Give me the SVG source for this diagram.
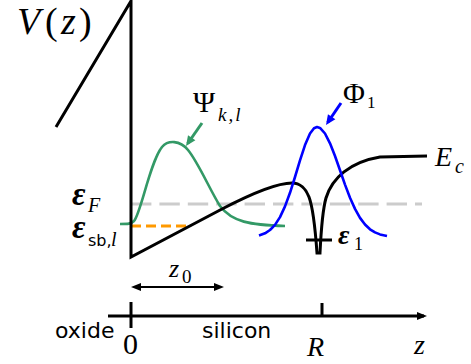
<svg xmlns="http://www.w3.org/2000/svg" width="471" height="364" viewBox="0 0 471 364">
<style>
.blk{fill:none;stroke:#000;stroke-width:3}
.serif{font-family:"Liberation Serif","Times New Roman",serif;fill:#000}
.it{font-style:italic}
.eps{font-style:italic;font-weight:bold}
.sans{font-family:"DejaVu Sans","Liberation Sans",sans-serif;fill:#000}
</style>
<defs>
<marker id="ahK" markerUnits="userSpaceOnUse" markerWidth="10" markerHeight="8" refX="7" refY="4" orient="auto-start-reverse" overflow="visible"><path d="M0,0 L10,4 L0,8 z" fill="#000"/></marker>
<marker id="ahG" markerUnits="userSpaceOnUse" markerWidth="10" markerHeight="9" refX="7" refY="4.5" orient="auto" overflow="visible"><path d="M0,0 L10,4.5 L0,9 z" fill="#339966"/></marker>
<marker id="ahB" markerUnits="userSpaceOnUse" markerWidth="10" markerHeight="9" refX="7" refY="4.5" orient="auto" overflow="visible"><path d="M0,0 L10,4.5 L0,9 z" fill="#0000ff"/></marker>
</defs>

<g id="levels">
<line x1="131" y1="204" x2="422" y2="204" stroke="#cccccc" stroke-width="3" stroke-dasharray="20.4 8"/>
<line x1="131" y1="226" x2="190" y2="226" stroke="#ff9900" stroke-width="3" stroke-dasharray="10 5"/>
</g>

<g id="psi">
<path d="M120,224 C128,224 131,224 134,221 C141,213 150,162 162,147 C168,140 180,140 188,150 C198,162 210,190 220,206 C232,222 250,225 285,226" fill="none" stroke="#339966" stroke-width="2.6"/>
</g>

<g id="potential">
<path class="blk" d="M56,127 L131,1 L131,257 L222,209 C247,196 275,183 292,183 C300,183 306,189 309,197 C312,205 315,225 317,253 L320,253 C321,232 322,212 326,198 C332,178 350,162 380,157 L427,156"/>
<line class="blk" x1="306" y1="240" x2="332" y2="240"/>
</g>

<g id="phi">
<polyline fill="none" stroke="#0000ff" stroke-width="2.6" stroke-linejoin="round" points="259,235.4 265,233.3 270,230 275,224.9 280,217.1 285,206.4 290,192.8 295,177 300,160.3 305,145.1 310,133.5 314,128.2 317,127 320,127.9 325,133.5 330,143.3 335,156 340,170.2 345,184.6 350,197.7 355,208.9 360,217.9 365,224.5 370,229.3 375,232.4 380,234.4 387,235.9"/>
</g>

<g id="connectors">
<line x1="202" y1="123" x2="187.7" y2="143.5" stroke="#339966" stroke-width="3" marker-end="url(#ahG)"/>
<line x1="341" y1="103" x2="327.7" y2="122.5" stroke="#0000ff" stroke-width="3" marker-end="url(#ahB)"/>
<line x1="134" y1="287" x2="221" y2="287" stroke="#000" stroke-width="2" marker-start="url(#ahK)" marker-end="url(#ahK)"/>
<line x1="108" y1="316" x2="424" y2="316" stroke="#000" stroke-width="3" marker-end="url(#ahK)"/>
<line class="blk" x1="131" y1="302" x2="131" y2="328"/>
<line class="blk" x1="322" y1="303" x2="322" y2="316"/>
</g>

<g id="labels">
<text class="serif" font-size="38" y="34"><tspan class="it" x="17">V</tspan><tspan x="45">(</tspan><tspan class="it" x="61">z</tspan><tspan x="79">)</tspan></text>
<text class="serif" font-size="30" x="193" y="112">Ψ</text>
<text class="serif it" font-size="19" x="218" y="121" letter-spacing="2">k,l</text>
<text class="serif" font-size="30" x="343" y="103">Φ</text>
<text class="serif" font-size="17" x="367" y="108">1</text>
<text class="serif it" font-size="28" x="435" y="166">E</text>
<text class="serif it" font-size="20" x="455" y="173">c</text>
<text class="serif eps" font-size="33" x="72" y="205">ε</text>
<text class="serif it" font-size="20" x="88" y="212">F</text>
<text class="serif eps" font-size="33" x="72" y="238">ε</text>
<text class="sans" font-size="16" x="88" y="246">sb,</text>
<text class="serif it" font-size="20" x="111" y="246">l</text>
<text class="serif eps" font-size="28" x="338" y="244">ε</text>
<text class="serif" font-size="18" x="354" y="250">1</text>
<text class="serif it" font-size="26" x="169" y="277">z</text>
<text class="serif" font-size="19" x="182" y="283">0</text>
<text class="sans" font-size="22" x="55" y="338">oxide</text>
<text class="serif" font-size="30" x="123" y="354">0</text>
<text class="sans" font-size="22" x="202" y="338">silicon</text>
<text class="serif it" font-size="28" x="307" y="356">R</text>
<text class="serif it" font-size="28" x="414" y="354">z</text>
</g>
</svg>
